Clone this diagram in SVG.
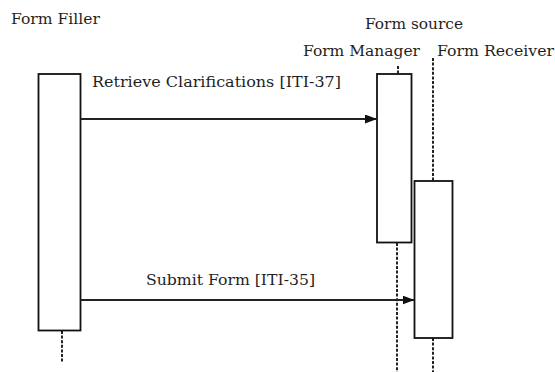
<svg xmlns="http://www.w3.org/2000/svg" width="555" height="372" viewBox="0 0 555 372">
  <defs>
    <style>
      text { font-family: 'DejaVu Serif', 'Liberation Serif', serif; font-size: 14px; fill: #1f1f1f; }
      .act { fill: #ffffff; stroke: #111111; stroke-width: 1.8; }
      .life { stroke: #222222; stroke-width: 2; stroke-dasharray: 3 1.6; fill: none; }
      .msg { stroke: #222222; stroke-width: 2; fill: none; }
    </style>
    <marker id="arrow" markerWidth="12" markerHeight="9" refX="12" refY="4.5" orient="auto" markerUnits="userSpaceOnUse">
      <path d="M0,0 L12,4.5 L0,9 Z" fill="#111111"/>
    </marker>
  </defs>
  <rect width="555" height="372" fill="#ffffff"/>

  <!-- participant headings -->
  <g id="headings">
    <text x="11" y="24" textLength="89" lengthAdjust="spacingAndGlyphs">Form Filler</text>
    <text x="365" y="29" textLength="98" lengthAdjust="spacingAndGlyphs">Form source</text>
    <text x="303" y="56" textLength="117" lengthAdjust="spacingAndGlyphs">Form Manager</text>
    <text x="437" y="56" textLength="117" lengthAdjust="spacingAndGlyphs">Form Receiver</text>
  </g>

  <!-- lifelines -->
  <g id="lifelines">
    <line class="life" x1="62" y1="331" x2="62" y2="362"/>
    <line class="life" x1="398" y1="66" x2="398" y2="74"/>
    <line class="life" x1="397" y1="243" x2="397" y2="372"/>
    <line class="life" x1="433" y1="58" x2="433" y2="181"/>
    <line class="life" x1="433" y1="338" x2="433" y2="372"/>
  </g>

  <!-- activation bars -->
  <g id="form-filler">
    <rect class="act" x="38.5" y="74" width="42" height="256.5"/>
  </g>
  <g id="form-manager">
    <rect class="act" x="377" y="74" width="34.5" height="168.5"/>
  </g>
  <g id="form-receiver">
    <rect class="act" x="414.5" y="181" width="38" height="157"/>
  </g>

  <!-- messages -->
  <g id="connectors">
    <line class="msg" x1="80.5" y1="119" x2="377" y2="119" marker-end="url(#arrow)"/>
    <text x="92" y="87" textLength="249" lengthAdjust="spacingAndGlyphs">Retrieve Clarifications [ITI-37]</text>
    <line class="msg" x1="80.5" y1="300" x2="414.5" y2="300" marker-end="url(#arrow)"/>
    <text x="146" y="285" textLength="169" lengthAdjust="spacingAndGlyphs">Submit Form [ITI-35]</text>
  </g>
</svg>
